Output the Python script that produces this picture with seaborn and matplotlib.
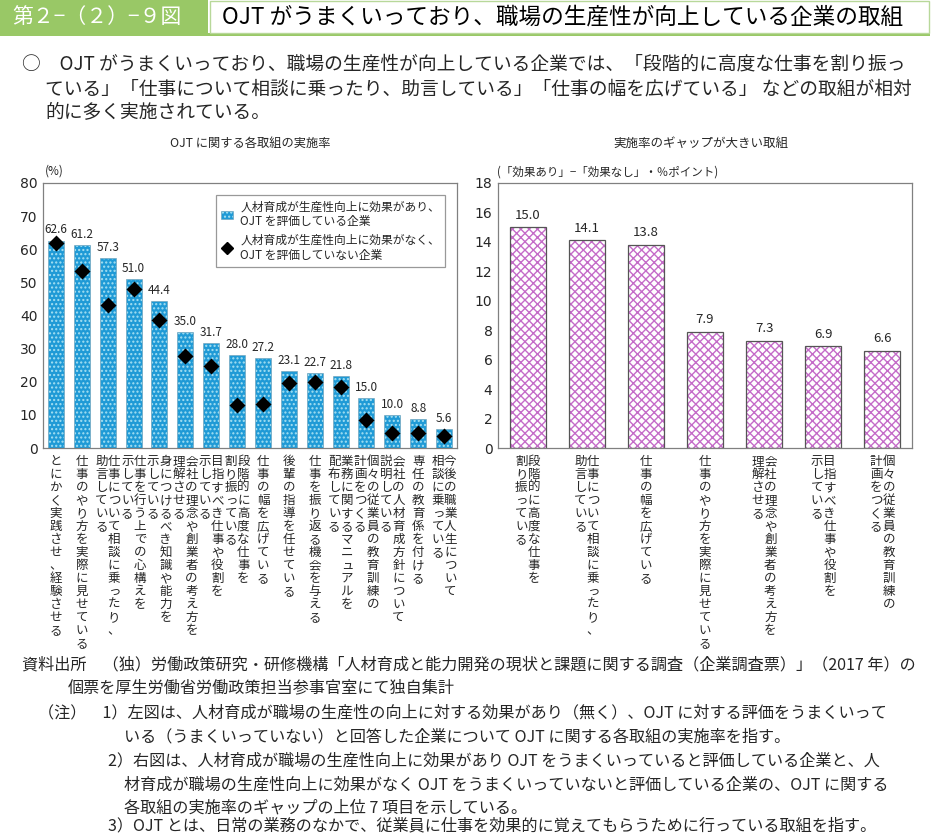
import numpy as np
import pandas as pd
import matplotlib
matplotlib.use("Agg")
import matplotlib.pyplot as plt
import matplotlib.patches as mpatches
import matplotlib.lines as mlines
import matplotlib.transforms as mtrans
from matplotlib.colors import to_rgba
import seaborn as sns

# ---------------- data ----------------
left_items = [
    ["とにかく実践させ、経験させる"],
    ["仕事のやり方を実際に見せている"],
    ["仕事について相談に乗ったり、", "助言している"],
    ["仕事を行う上での心構えを", "示している"],
    ["身につけるべき知識や能力を", "示している"],
    ["会社の理念や創業者の考え方を", "理解させる"],
    ["目指すべき仕事や役割を", "示している"],
    ["段階的に高度な仕事を", "割り振っている"],
    ["仕事の幅を広げている"],
    ["後輩の指導を任せている"],
    ["仕事を振り返る機会を与える"],
    ["業務に関するマニュアルを", "配布している"],
    ["個々の従業員の教育訓練の", "計画をつくる"],
    ["会社の人材育成方針について", "説明している"],
    ["専任の教育係を付ける"],
    ["今後の職業人生について", "相談に乗っている"],
]
effect_yes = [62.6, 61.2, 57.3, 51.0, 44.4, 35.0, 31.7, 28.0, 27.2, 23.1, 22.7, 21.8, 15.0, 10.0, 8.8, 5.6]
effect_no = [62.0, 53.3, 43.2, 48.1, 38.5, 27.7, 24.8, 13.0, 13.4, 19.6, 20.0, 18.4, 8.4, 4.4, 4.4, 3.7]

right_items = [
    ["段階的に高度な仕事を", "割り振っている"],
    ["仕事について相談に乗ったり、", "助言している"],
    ["仕事の幅を広げている"],
    ["仕事のやり方を実際に見せている"],
    ["会社の理念や創業者の考え方を", "理解させる"],
    ["目指すべき仕事や役割を", "示している"],
    ["個々の従業員の教育訓練の", "計画をつくる"],
]
gap_values = [15.0, 14.1, 13.8, 7.9, 7.3, 6.9, 6.6]

left_yticks = list(range(0, 81, 10))
right_yticks = list(range(0, 19, 2))

legend_labels = ["人材育成が生産性向上に効果があり、\nOJT を評価している企業",
                 "人材育成が生産性向上に効果がなく、\nOJT を評価していない企業"]

# ---------------- style ----------------
sns.set_style("white")
plt.rcParams["font.family"] = ["Noto Sans CJK JP", "DejaVu Sans"]
plt.rcParams["hatch.linewidth"] = 1.0

W, H = 933, 833
fig = plt.figure(figsize=(W / 100, H / 100), dpi=100)


def fx(px):
    return px / W


def fy(py):
    return 1 - py / H


BLUE = "#1f9ad6"
BLUE_HATCH = "#a6e0f2"
PINK_HATCH = "#c46cc8"
GREEN = "#99c866"

# ---------------- header ----------------
fig.patches.append(mpatches.Rectangle((0, fy(33)), fx(208), 33 / H, transform=fig.transFigure,
                                      facecolor=GREEN, edgecolor="none"))
fig.patches.append(mpatches.Rectangle((fx(0), fy(36)), fx(930), 3 / H, transform=fig.transFigure,
                                      facecolor=GREEN, edgecolor="none"))
fig.patches.append(mpatches.Rectangle((fx(210), fy(33)), fx(719), 32 / H, transform=fig.transFigure,
                                      facecolor="white", edgecolor="#b8d89a", linewidth=1))
fig.text(fx(12), fy(17), "第２−（２）−９図", color="white", fontsize=15, va="center", ha="left")
fig.text(fx(222), fy(17), "OJT がうまくいっており、職場の生産性が向上している企業の取組",
         color="black", fontsize=16.3, va="center", ha="left")

para = ["○　OJT がうまくいっており、職場の生産性が向上している企業では、「段階的に高度な仕事を割り振っ",
        "ている」「仕事について相談に乗ったり、助言している」「仕事の幅を広げている」 などの取組が相対",
        "的に多く実施されている。"]
fig.text(fx(22), fy(64), para[0], fontsize=13.5, va="center", ha="left")
fig.text(fx(45), fy(89), para[1], fontsize=13.5, va="center", ha="left")
fig.text(fx(45), fy(113), para[2], fontsize=13.5, va="center", ha="left")

fig.text(fx(250), fy(143), "OJT に関する各取組の実施率", fontsize=8.8, ha="center", va="center")
fig.text(fx(701), fy(143), "実施率のギャップが大きい取組", fontsize=9, ha="center", va="center")
fig.text(fx(45), fy(171), "(%)", fontsize=8.5, ha="left", va="center")
fig.text(fx(497), fy(172), "(「効果あり」−「効果なし」・％ポイント)", fontsize=8.3, ha="left", va="center")

# ---------------- axes ----------------
axL = fig.add_axes([fx(43), fy(448), fx(414), 265 / H])
axR = fig.add_axes([fx(498), fy(448), fx(414), 265 / H])

left_names = ["".join(c) for c in left_items]
right_names = ["".join(c) for c in right_items]
dfL = pd.DataFrame({"item": left_names, "yes": effect_yes, "no": effect_no})
dfR = pd.DataFrame({"item": right_names, "gap": gap_values})

sns.barplot(data=dfL, x="item", y="yes", ax=axL, color=BLUE, saturation=1, width=0.62,
            order=left_names)
for p in axL.patches:
    p.set_hatch("....")
    p.set_edgecolor("#6c9db4")
    p.set_linewidth(0.4)
    p._hatch_color = to_rgba(BLUE_HATCH)

sns.pointplot(data=dfL, x="item", y="no", ax=axL, order=left_names, color="black",
              markers="D", linestyles="none", markersize=6.3, errorbar=None, zorder=5)

sns.barplot(data=dfR, x="item", y="gap", ax=axR, color="white", saturation=1, width=0.61,
            order=right_names)
for p in axR.patches:
    p.set_hatch("xxxx")
    p.set_edgecolor("#555555")
    p.set_linewidth(0.9)
    p._hatch_color = to_rgba(PINK_HATCH)

for ax, ymax, ticks, n in [(axL, 80, left_yticks, len(left_names)), (axR, 18, right_yticks, len(right_names))]:
    ax.set_ylim(0, ymax)
    ax.set_xlim(-0.5, n - 0.5)
    ax.set_yticks(ticks)
    ax.set_yticklabels([str(t) for t in ticks], fontsize=10, family=["DejaVu Sans"])
    ax.set_xticks(range(n))
    ax.set_xticklabels([])
    ax.set_xlabel("")
    ax.set_ylabel("")
    ax.tick_params(axis="y", direction="in", length=4, color="#808080", pad=4)
    ax.tick_params(axis="x", length=0)
    for s in ax.spines.values():
        s.set_color("#808080")
        s.set_linewidth(0.9)

# value labels
for i, v in enumerate(effect_yes):
    axL.annotate(f"{v:.1f}", (i, v), xytext=(0, 3), textcoords="offset points",
                 ha="center", va="bottom", fontsize=8.5)
for i, v in enumerate(gap_values):
    axR.annotate(f"{v:.1f}", (i, v), xytext=(0, 4), textcoords="offset points",
                 ha="center", va="bottom", fontsize=9.5)

# legend
h1 = mpatches.Patch(facecolor=BLUE, edgecolor="#6c9db4", hatch="....", linewidth=0.4)
h1._hatch_color = to_rgba(BLUE_HATCH)
h2 = mlines.Line2D([], [], color="black", marker="D", linestyle="none", markersize=6.5)
leg = axL.legend([h1, h2], legend_labels, loc="upper right", bbox_to_anchor=(0.972, 0.955),
                 borderaxespad=0, fontsize=8.5, frameon=True, fancybox=False, handlelength=1.0,
                 handletextpad=0.6, labelspacing=0.45, borderpad=0.45)
leg.get_frame().set_edgecolor("#808080")
leg.get_frame().set_linewidth(0.9)


# vertical x labels
def vertical_labels(ax, items, top_px=455, pitch=13.0, colgap=12.5, fs=9):
    for i, cols in enumerate(items):
        n = len(cols)
        for j, col in enumerate(cols):
            off = ((n - 1) / 2 - j) * colgap
            for k, ch in enumerate(col):
                dx = 1 if ch in "っゃゅょュャョ" else 0
                trans = mtrans.blended_transform_factory(ax.transData, fig.transFigure) + \
                    mtrans.ScaledTranslation((off + dx) / 100, 0, fig.dpi_scale_trans)
                ax.text(i, fy(top_px + pitch * k + pitch / 2), ch, transform=trans,
                        ha="center", va="center", fontsize=fs, clip_on=False)


vertical_labels(axL, left_items)
vertical_labels(axR, right_items)

# ---------------- notes ----------------
nfs = 11.6
notes = [
    (22, 665, "資料出所　（独）労働政策研究・研修機構「人材育成と能力開発の現状と課題に関する調査（企業調査票）」（2017 年）の"),
    (68, 688, "個票を厚生労働省労働政策担当参事官室にて独自集計"),
    (38, 713, "（注）　1）左図は、人材育成が職場の生産性の向上に対する効果があり（無く）、OJT に対する評価をうまくいって"),
    (124, 737, "いる（うまくいっていない）と回答した企業について OJT に関する各取組の実施率を指す。"),
    (108, 761, "2）右図は、人材育成が職場の生産性向上に効果があり OJT をうまくいっていると評価している企業と、人"),
    (124, 785, "材育成が職場の生産性向上に効果がなく OJT をうまくいっていないと評価している企業の、OJT に関する"),
    (124, 808, "各取組の実施率のギャップの上位 7 項目を示している。"),
    (108, 826, "3）OJT とは、日常の業務のなかで、従業員に仕事を効果的に覚えてもらうために行っている取組を指す。"),
]
for x, y, t in notes:
    fig.text(fx(x), fy(y), t, fontsize=nfs, ha="left", va="center")

fig.savefig("out.png", dpi=100)
